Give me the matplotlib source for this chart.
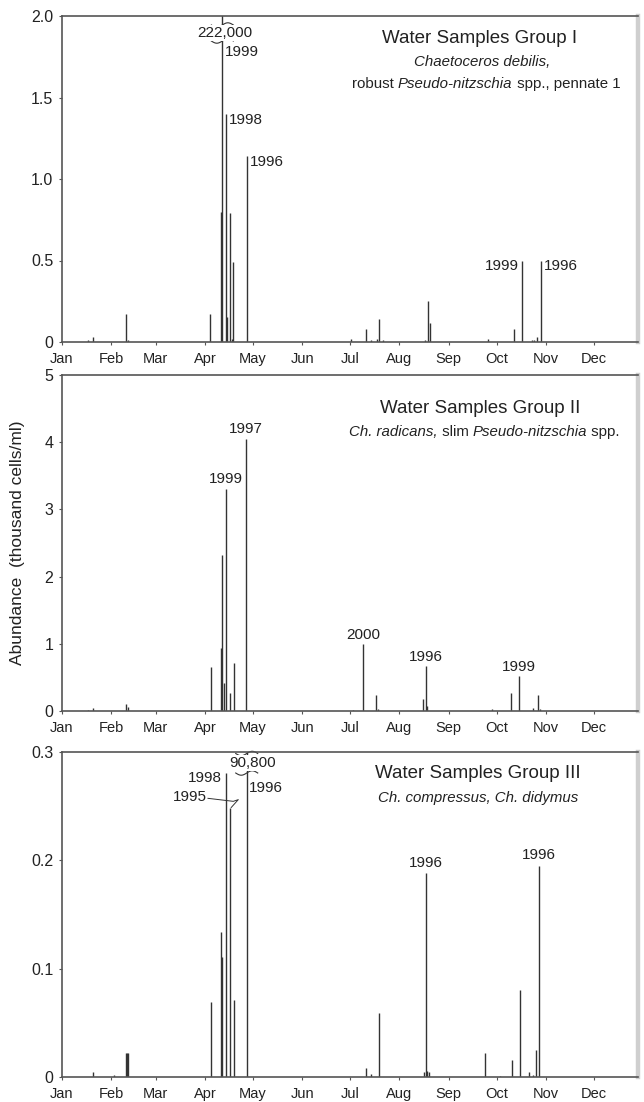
import matplotlib
matplotlib.use('Agg')
import matplotlib.pyplot as plt
import matplotlib.transforms as mtransforms
from matplotlib.lines import Line2D
from matplotlib.offsetbox import TextArea, HPacker, AnnotationBbox
import numpy as np

plt.rcParams['font.family'] = ['Liberation Sans', 'DejaVu Sans']

# ---------------- data ----------------
month_labels = ['Jan', 'Feb', 'Mar', 'Apr', 'May', 'Jun', 'Jul', 'Aug', 'Sep', 'Oct', 'Nov', 'Dec']
month_start_days = [0, 31, 59, 90, 120, 151, 181, 212, 243, 273, 304, 334]

# Group I (day of year, thousand cells/ml)
g1_days = [16.6, 19.7, 40.7, 41.8, 93.2, 100.1, 100.9, 103.2, 103.6, 105.7, 107.2, 107.8,
           116.2, 181.8, 190.8, 194.0, 198.0, 198.9, 202.0, 228.0, 229.7, 231.0, 267.3,
           283.9, 288.8, 295.0, 296.6, 298.4, 301.0]
g1_vals = [0.015, 0.03, 0.17, 0.01, 0.17, 0.80, 222.0, 1.40, 0.155, 0.79, 0.02, 0.49,
           1.14, 0.02, 0.08, 0.01, 0.02, 0.14, 0.01, 0.01, 0.25, 0.115, 0.02,
           0.08, 0.50, 0.01, 0.015, 0.03, 0.50]
g1_yticks = [0, 0.5, 1.0, 1.5, 2.0]
g1_yticklabels = ['0', '0.5', '1.0', '1.5', '2.0']

# Group II
g2_days = [16.8, 19.7, 40.7, 41.6, 93.6, 99.9, 100.7, 101.8, 103.0, 105.7, 108.2, 115.7,
           183.0, 189.3, 197.1, 198.5, 226.6, 228.5, 229.6, 270.0, 282.0, 287.0, 296.0,
           298.7, 300.0]
g2_vals = [0.02, 0.04, 0.10, 0.06, 0.65, 0.94, 2.32, 0.42, 3.30, 0.27, 0.71, 4.05,
           0.02, 1.00, 0.24, 0.03, 0.18, 0.67, 0.08, 0.03, 0.27, 0.52, 0.05,
           0.24, 0.03]
g2_yticks = [0, 1, 2, 3, 4, 5]
g2_yticklabels = ['0', '1', '2', '3', '4', '5']

# Group III
g3_days = [19.7, 32.7, 40.7, 41.3, 41.8, 93.9, 99.9, 100.7, 103.0, 105.7, 108.2, 116.2,
           190.8, 194.0, 199.0, 227.5, 228.5, 229.5, 230.5, 265.5, 275.0, 282.5, 287.5,
           293.0, 296.0, 297.5, 299.5]
g3_vals = [0.005, 0.002, 0.0225, 0.0225, 0.0225, 0.0695, 0.134, 0.111, 0.281, 0.248, 0.071, 90.8,
           0.008, 0.003, 0.059, 0.005, 0.188, 0.006, 0.005, 0.022, 0.001, 0.016, 0.080,
           0.005, 0.002, 0.025, 0.195]
g3_yticks = [0, 0.1, 0.2, 0.3]
g3_yticklabels = ['0', '0.1', '0.2', '0.3']

# year labels: (day of spike, text)
g1_year_labels = [(100.9, '1999'), (103.2, '1998'), (116.2, '1996'), (288.8, '1999'), (301.0, '1996')]
g2_year_labels = [(103.0, '1999'), (115.7, '1997'), (189.3, '2000'), (228.5, '1996'), (287.0, '1999')]
g3_year_labels = [(103.0, '1998'), (105.7, '1995'), (116.2, '1996'), (228.5, '1996'), (299.5, '1996')]
g1_break_text = '222,000'
g3_break_text = '90,800'

ylabel = 'Abundance  (thousand cells/ml)'

# ---------------- style ----------------
W, H = 644, 1102
DPI = 100
SPIKE = '#333333'
TXT = '#222222'
SPINE = '#555555'

fig = plt.figure(figsize=(W / DPI, H / DPI), dpi=DPI)

def frac_rect(left_px, right_px, top_px, bottom_px):
    return [left_px / W, 1 - bottom_px / H, (right_px - left_px) / W, (bottom_px - top_px) / H]

L_PX, R_PX = 61.5, 638.0
PX_PER_DAY = 1.594
XMAX = (R_PX - L_PX) / PX_PER_DAY

ax1 = fig.add_axes(frac_rect(L_PX, R_PX, 16, 342))
ax2 = fig.add_axes(frac_rect(L_PX, R_PX, 375, 711))
ax3 = fig.add_axes(frac_rect(L_PX, R_PX, 752, 1077))

def setup(ax, days, vals, yticks, yticklabels):
    ax.vlines(days, 0, vals, colors=SPIKE, linewidth=1.0)
    ax.set_xlim(0, XMAX)
    ax.set_ylim(0, yticks[-1])
    ax.set_yticks(yticks)
    ax.set_yticklabels(yticklabels)
    ax.set_xticks(month_start_days)
    ax.set_xticklabels(month_labels)
    ax.tick_params(axis='y', direction='out', length=2.5, width=0.8, colors=SPINE,
                   labelcolor=TXT, labelsize=11.5, pad=3.5)
    ax.tick_params(axis='x', direction='out', length=2.5, width=0.8, colors=SPINE,
                   labelcolor=TXT, labelsize=10.5, pad=4.5)
    for s in ['left', 'top', 'bottom']:
        ax.spines[s].set_color(SPINE)
        ax.spines[s].set_linewidth(1.2)
    ax.spines['right'].set_color('#cfcfcf')
    ax.spines['right'].set_linewidth(3.2)

setup(ax1, g1_days, g1_vals, g1_yticks, g1_yticklabels)
setup(ax2, g2_days, g2_vals, g2_yticks, g2_yticklabels)
setup(ax3, g3_days, g3_vals, g3_yticks, g3_yticklabels)

PT = 72.0 / DPI  # pixels -> points

def val_of(days, vals, d):
    return vals[days.index(d)]

def year_label(ax, days, vals, d, text, dx, dy, ha, va='center'):
    v = min(val_of(days, vals, d), ax.get_ylim()[1])
    ax.annotate(text, xy=(d, v), xytext=(dx * PT, dy * PT), textcoords='offset points',
                ha=ha, va=va, fontsize=11, color=TXT, annotation_clip=False)

# offsets in pixels (dx, dy up-positive), alignment
g1_pos = [(3, -36, 'left'), (3, -6, 'left'), (3, -6, 'left'), (-3, -6, 'right'), (3, -6, 'left')]
g2_pos = [(0, 10, 'center'), (0, 10, 'center'), (0, 9, 'center'), (0, 9, 'center'), (0, 9, 'center')]
g3_pos = [(-4, -5, 'right'), (-23, 11, 'right'), (2.5, -36, 'left'), (0, 10, 'center'), (0, 11, 'center')]

for ax, days, vals, labs, pos in [(ax1, g1_days, g1_vals, g1_year_labels, g1_pos),
                                  (ax2, g2_days, g2_vals, g2_year_labels, g2_pos),
                                  (ax3, g3_days, g3_vals, g3_year_labels, g3_pos)]:
    for (d, t), (dx, dy, ha) in zip(labs, pos):
        year_label(ax, days, vals, d, t, dx, dy, ha)

# broken-spike labels and break marks
def break_mark(ax, d, dy_px_from_top, hw=11, amp=2.2):
    blend = mtransforms.blended_transform_factory(ax.transData, ax.transAxes)
    xs = np.linspace(-hw, hw, 40)
    ys = dy_px_from_top + amp * np.sin(np.pi * xs / hw)
    tr = mtransforms.ScaledTranslation(d, 1.0, blend)
    ax.add_line(Line2D(xs, ys, transform=tr, color=SPIKE, lw=0.8, clip_on=False))

def break_text(ax, d, text, dx, dy):
    blend = mtransforms.blended_transform_factory(ax.transData, ax.transAxes)
    ax.annotate(text, xy=(d, 1.0), xycoords=blend, xytext=(dx * PT, dy * PT),
                textcoords='offset points', ha='center', va='center', fontsize=11, color=TXT,
                bbox=dict(boxstyle='square,pad=0.05', fc='white', ec='none'))

d1 = g1_days[g1_vals.index(max(g1_vals))]
break_text(ax1, d1, g1_break_text, 2, -17)
break_mark(ax1, d1, -9)
break_mark(ax1, d1, -25)

d3 = g3_days[g3_vals.index(max(g3_vals))]
break_text(ax3, d3, g3_break_text, 6, -11)
break_mark(ax3, d3, -1.5)
break_mark(ax3, d3, -21)

# leader line for 1995 label
d95 = g3_year_labels[1][0]
v95 = val_of(g3_days, g3_vals, d95)
tr95 = mtransforms.ScaledTranslation(d95, v95, ax3.transData)
ax3.add_line(Line2D([-22, 3.3, 8.3, 1.2], [10, 7, 8.7, 0.8], transform=tr95,
                    color=SPIKE, lw=0.7, clip_on=False))

# ---------------- titles ----------------
TITLE_FS = 13.5
SUB_FS = 10.8

def mixed(ax, pieces, x, y, align):
    areas = [TextArea(t, textprops=dict(fontsize=SUB_FS, color=TXT,
                                          fontstyle='italic' if it else 'normal'))
             for t, it in pieces]
    box = HPacker(children=areas, align='baseline', pad=0, sep=0)
    ab = AnnotationBbox(box, (x, y), xycoords='axes fraction', frameon=False,
                        box_alignment=align, pad=0)
    ax.add_artist(ab)

ax1.text(0.725, 0.9325, 'Water Samples Group I', transform=ax1.transAxes, ha='center',
         va='center', fontsize=TITLE_FS, color=TXT)
mixed(ax1, [('Chaetoceros debilis,', True)], 0.729, 0.859, (0.5, 0.5))
mixed(ax1, [('robust ', False), ('Pseudo-nitzschia', True), (' spp., pennate 1', False)],
      0.969, 0.791, (1.0, 0.5))

ax2.text(0.727, 0.899, 'Water Samples Group II', transform=ax2.transAxes, ha='center',
         va='center', fontsize=TITLE_FS, color=TXT)
mixed(ax2, [('Ch. radicans,', True), (' slim ', False), ('Pseudo-nitzschia', True), (' spp.', False)],
      0.734, 0.830, (0.5, 0.5))

ax3.text(0.723, 0.935, 'Water Samples Group III', transform=ax3.transAxes, ha='center',
         va='center', fontsize=TITLE_FS, color=TXT)
mixed(ax3, [('Ch. compressus, Ch. didymus', True)], 0.723, 0.858, (0.5, 0.5))

fig.text(18 / W, 1 - 543 / H, ylabel, rotation=90, ha='center', va='center',
         fontsize=12.5, color=TXT)

fig.savefig('out.png', dpi=DPI)
